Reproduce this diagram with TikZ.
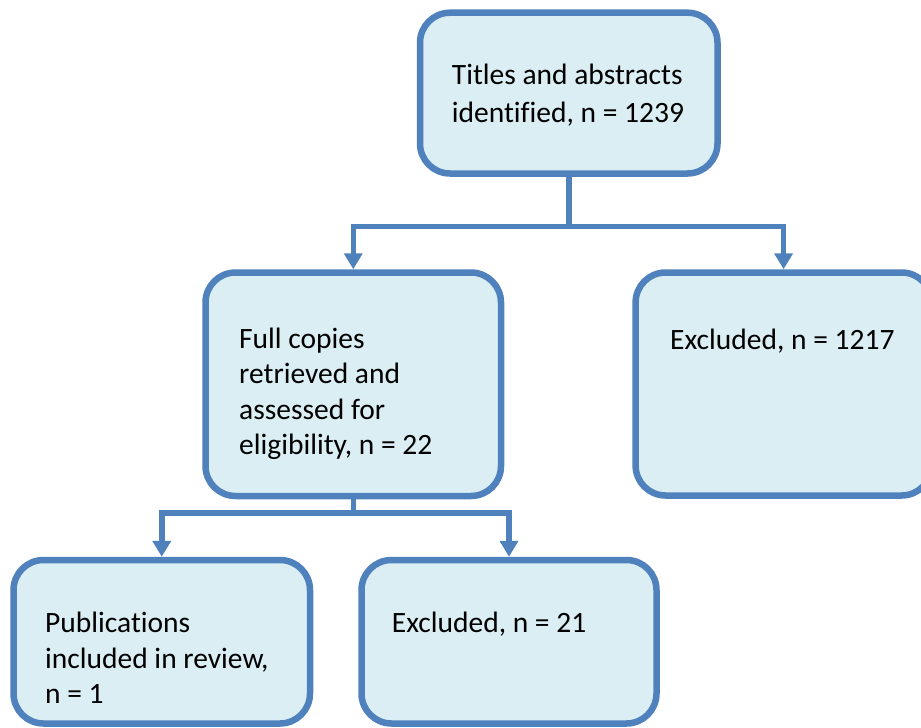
\documentclass[tikz,border=0pt]{standalone}
\usepackage{fontspec}
\setmainfont{Carlito}[Ligatures=NoCommon]
\usetikzlibrary{arrows.meta}

\definecolor{boxline}{HTML}{4F81BD}
\definecolor{boxfill}{HTML}{DAEEF3}

\tikzset{
  flowbox/.style={draw=boxline, fill=boxfill, line width=6.5pt,
    rounded corners=30pt, inner sep=0pt, text width=0pt},
  boxtext/.style={anchor=base west, inner sep=0pt, text=black,
    font=\fontsize{29.5}{35.5}\selectfont},
  link/.style={draw=boxline, line width=5.5pt},
  linkarrow/.style={link, -{Triangle[width=18pt,length=16pt]}},
}

\begin{document}
\begin{tikzpicture}[x=1pt, y=-1pt]
  \useasboundingbox (0,0) rectangle (921,728);
  \clip (0,0) rectangle (921,728);

  % boxes
  \node[flowbox, minimum width=297.5pt, minimum height=160.8pt] (ident)    at (568.75,93.1) {};
  \node[flowbox, minimum width=295.5pt, minimum height=223.5pt] (full)     at (353.25,384.25) {};
  \node[flowbox, minimum width=296pt,   minimum height=223pt]   (excl1)    at (783.6,384) {};
  \node[flowbox, minimum width=296.5pt, minimum height=163.5pt] (incl)     at (161.75,641.75) {};
  \node[flowbox, minimum width=295pt,   minimum height=163.5pt] (excl2)    at (509,641.75) {};

  % box texts
  \node[boxtext, font=\fontsize{29.5}{38}\selectfont] (identtxt) at (451.7,84.3)
    {\vtop{\hbox{Titles and abstracts}\hbox{identified, n = 1239}}};
  \node[boxtext] (fulltxt) at (239,348)
    {\vtop{\hbox{Full copies}\hbox{retrieved and}\hbox{assessed for}\hbox{eligibility, n = 22}}};
  \node[boxtext] (excl1txt) at (670,349.3) {Excluded, n = 1217};
  \node[boxtext] (incltxt) at (45,632.7)
    {\vtop{\hbox{Publications}\hbox{included in review,}\hbox{n = 1}}};
  \node[boxtext] (excl2txt) at (391.7,632.7) {Excluded, n = 21};

  % branch points
  \coordinate (split1) at (568.75,226.7);
  \coordinate (split2) at (353.25,513);

  % connectors
  \draw[link] (ident.south) -- (split1);
  \draw[linkarrow] (split1) -| (full.north);
  \draw[linkarrow] (split1) -| (excl1.north);
  \draw[link] (full.south) -- (split2);
  \draw[linkarrow] (split2) -| (incl.north);
  \draw[linkarrow] (split2) -| (excl2.north);
\end{tikzpicture}
\end{document}
